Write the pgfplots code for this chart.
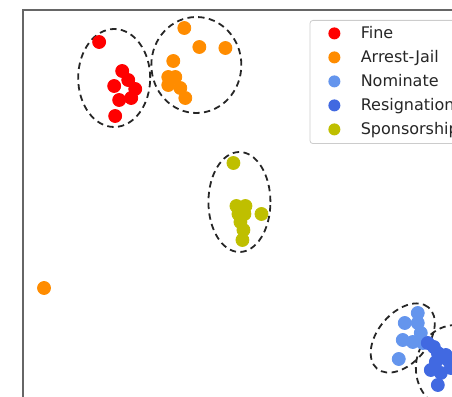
\documentclass[border=0pt]{standalone}
\usepackage{pgfplots}
\pgfplotsset{compat=1.18}
\usepackage{fontspec}
\setmainfont{DejaVu Sans}
\definecolor{cFine}{HTML}{FF0000}
\definecolor{cArrest}{HTML}{FF8C00}
\definecolor{cNom}{HTML}{6495ED}
\definecolor{cRes}{HTML}{4169E1}
\definecolor{cSpon}{HTML}{BFBF00}
\begin{document}
\begin{tikzpicture}
\path[use as bounding box] (0,0) rectangle (226pt,198.5pt);
\begin{axis}[
  at={(11.5pt,-11.5pt)}, anchor=south west,
  scale only axis, width=228.5pt, height=205pt,
  xmin=23, xmax=480, ymin=-23, ymax=387,
  xtick=\empty, ytick=\empty,
  axis line style={draw=black!60, line width=1.1pt},
  only marks,
  legend style={at={(axis cs:309,377)}, anchor=north west,
    draw=black!20, rounded corners=1.5pt, fill=white,
    font=\fontsize{8}{9.5}\selectfont, text=black!85,
    inner xsep=3pt, inner ysep=3pt, row sep=4.4pt,
    nodes={inner sep=0pt, text height=6pt, text depth=1.6pt}},
  legend cell align=left,
  legend image code/.code={\fill[draw=none] (9pt,0.3pt) circle (3pt); \path (0pt,0pt) (22pt,0pt);},
]
\addplot[mark=*, mark size=3.25pt, color=cFine, mark options={draw=none, fill=cFine}] coordinates {
(99,355) (122,326) (128,317) (114,311) (135,308) (119,297) (131,299) (115,281)
};
\addlegendentry{Fine}
\addplot[mark=*, mark size=3.25pt, color=cArrest, mark options={draw=none, fill=cArrest}] coordinates {
(184,369) (199,350) (225,349) (173,336) (168,320) (175,320) (168,312) (180,309) (185,299) (44,109)
};
\addlegendentry{Arrest-Jail}
\addplot[mark=*, mark size=3.25pt, color=cNom, mark options={draw=none, fill=cNom}] coordinates {
(417,84) (417,74) (404,74) (402,57) (420,64) (412,55) (422,54) (398,38)
};
\addlegendentry{Nominate}
\addplot[mark=*, mark size=3.25pt, color=cRes, mark options={draw=none, fill=cRes}] coordinates {
(433,50) (427,54) (437,44) (447,37) (430,27) (440,24) (437,12) (445,42) (435,35) (450,29)
};
\addlegendentry{Resignation}
\addplot[mark=*, mark size=3.25pt, color=cSpon, mark options={draw=none, fill=cSpon}] coordinates {
(233,234) (236,191) (245,191) (261,183) (238,183) (244,183) (240,175) (243,167) (242,157)
};
\addlegendentry{Sponsorship}
\draw[black!85, line width=0.9pt, dash pattern=on 3.2pt off 2.2pt] (axis cs:114,319) ellipse [x radius=18pt, y radius=24.5pt];
\draw[black!85, line width=0.9pt, dash pattern=on 3.2pt off 2.2pt] (axis cs:196,332) ellipse [x radius=22.5pt, y radius=24pt];
\draw[black!85, line width=0.9pt, dash pattern=on 3.2pt off 2.2pt] (axis cs:239,195) ellipse [x radius=15.5pt, y radius=25pt];
\draw[black!85, line width=0.9pt, dash pattern=on 3.2pt off 2.2pt, rotate around={50:(axis cs:402,59)}] (axis cs:402,59) ellipse [x radius=20pt, y radius=12.5pt];
\draw[black!85, line width=0.9pt, dash pattern=on 3.2pt off 2.2pt] (axis cs:455,29) ellipse [x radius=20pt, y radius=21.5pt];
\end{axis}
\end{tikzpicture}
\end{document}
